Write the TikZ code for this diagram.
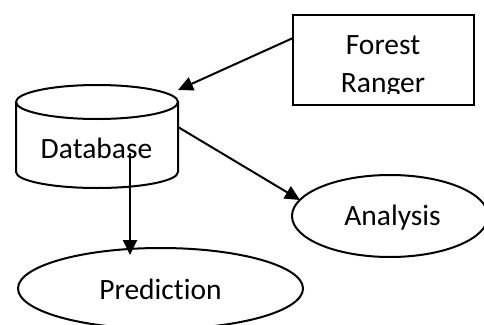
\documentclass[tikz,border=0pt]{standalone}
\usepackage{fontspec}
\setmainfont[Ligatures=NoCommon]{Carlito}
\usetikzlibrary{arrows.meta,shapes.geometric}
\begin{document}
\begin{tikzpicture}[x=1pt,y=-1pt,line width=2pt,
  lbl/.style={font=\fontsize{29.5}{35}\selectfont,inner sep=0pt,anchor=base},
  oval/.style={draw,ellipse,inner sep=0pt},
  conn/.style={-{Triangle[length=15pt,width=14pt]},line width=2pt}]
\useasboundingbox (0,0) rectangle (484,324);
\clip (0,0) rectangle (484,324);

% Forest Ranger box, its text clipped by the inner margin
\node[draw,rectangle,minimum width=181pt,minimum height=90pt,inner sep=0pt] (ranger) at (383.5,60) {};
\begin{scope}
  \clip (294,16) rectangle (473,93.5);
  \node[lbl] (forest) at (383,54) {Forest};
  \node[lbl] (rangertxt) at (383,92) {Ranger};
\end{scope}

% Database cylinder
\draw (97,102) ellipse [x radius=81,y radius=17];
\draw (16,102) -- (16,172) arc[start angle=180,end angle=0,x radius=81,y radius=16] -- (178,102);
\node[lbl] (db) at (96.5,158) {Database};

% Analysis and Prediction ovals
\node[oval,minimum width=196pt,minimum height=82pt] (analysis) at (390,216) {};
\node[lbl] (analysistxt) at (392.5,225) {Analysis};
\node[oval,minimum width=285pt,minimum height=81pt] (prediction) at (160.5,288.5) {};
\node[lbl] (predictiontxt) at (160.5,299) {Prediction};

% connector ends
\coordinate (rangerOut) at (293,38);
\coordinate (dbIn) at (178,90);
\coordinate (dbOutA) at (178,127);
\coordinate (analysisIn) at (300,200);
\coordinate (dbOutP) at (130,153);
\coordinate (predictionIn) at (130,255);

\draw[conn] (rangerOut) -- (dbIn);
\draw[conn] (dbOutA) -- (analysisIn);
\draw[conn] (dbOutP) -- (predictionIn);
\end{tikzpicture}
\end{document}
